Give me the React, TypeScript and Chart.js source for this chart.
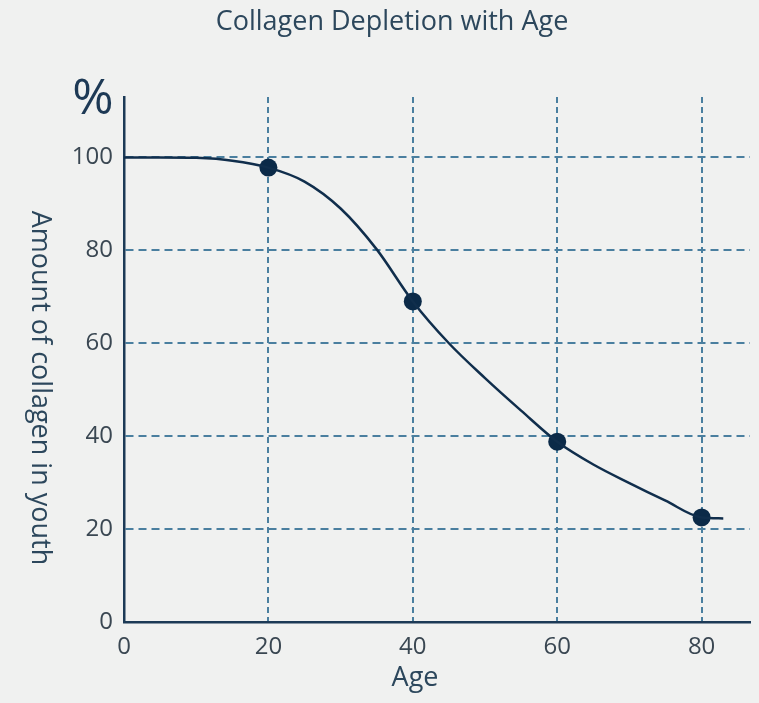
import { useEffect, useRef } from "react";
import { Chart, registerables } from "chart.js";

Chart.register(...registerables);

const chartTitle = "Collagen Depletion with Age";
const xAxisTitle = "Age";
const yAxisTitle = "Amount of collagen in youth";
const yUnit = "%";

const xTickValues = [0, 20, 40, 60, 80];
const yTickValues = [0, 20, 40, 60, 80, 100];

const markerAges = [20, 40, 60, 80];
const markerValues = [97.8, 69, 38.8, 22.5];

const curveAges = [0, 5, 10, 15, 20, 25, 30, 35, 40, 45, 50, 55, 60, 65, 70, 75, 80, 83];
const curveValues = [100, 100, 99.9, 99.3, 97.8, 94.8, 89, 80.2, 69, 60, 52.5, 45.5, 38.8, 33.9, 29.9, 26.1, 22.5, 22.3];

const FONT = '"Open Sans", "Noto Sans", sans-serif';
const GRID = "#4a7f9f";
const NAVY = "#102e4c";

export default function App() {
  const ref = useRef<HTMLCanvasElement | null>(null);

  useEffect(() => {
    if (!ref.current) return;

    const textPlugin = {
      id: "texts",
      afterDraw(chart: any) {
        const ctx = chart.ctx;
        ctx.save();
        ctx.textAlign = "center";
        ctx.textBaseline = "middle";
        ctx.fillStyle = "#2c475c";
        ctx.font = `27px ${FONT}`;
        ctx.fillText(chartTitle, 392, 22);
        ctx.fillText(xAxisTitle, 415, 678);
        ctx.save();
        ctx.translate(40, 388);
        ctx.rotate(Math.PI / 2);
        ctx.fillText(yAxisTitle, 0, 0);
        ctx.restore();
        ctx.fillStyle = "#1d3955";
        ctx.font = `50px ${FONT}`;
        ctx.fillText(yUnit, 93, 100);
        ctx.restore();
      },
    };

    const chart = new Chart(ref.current, {
      type: "line",
      data: {
        datasets: [
          {
            data: curveAges.map((x, i) => ({ x, y: curveValues[i] })),
            borderColor: NAVY,
            borderWidth: 2.5,
            pointRadius: 0,
            cubicInterpolationMode: "monotone",
            fill: false,
          },
          {
            data: markerAges.map((x, i) => ({ x, y: markerValues[i] })),
            showLine: false,
            pointRadius: 9,
            pointBackgroundColor: "#0b2a48",
            pointBorderWidth: 0,
            borderColor: "#0b2a48",
          },
        ],
      } as any,
      plugins: [textPlugin],
      options: {
        animation: false,
        responsive: false,
        events: [],
        layout: { padding: { left: 0, right: 4, top: 97, bottom: 0 } },
        plugins: { legend: { display: false }, tooltip: { enabled: false }, title: { display: false } },
        scales: {
          x: {
            type: "linear",
            min: 0,
            max: 86.7,
            afterBuildTicks: (s: any) => {
              s.ticks = xTickValues.map((v) => ({ value: v }));
            },
            afterFit: (s: any) => {
              s.height = 81;
            },
            grid: {
              color: (c: any) => (c.tick && c.tick.value === 0 ? "rgba(0,0,0,0)" : GRID),
              lineWidth: 2,
              drawTicks: false,
            },
            border: { display: true, color: "#1c3a56", width: 2.5, dash: [6, 4] },
            ticks: {
              padding: 11,
              color: "#3a4752",
              font: { family: FONT, size: 24 },
              maxRotation: 0,
              autoSkip: false,
            },
          },
          y: {
            type: "linear",
            min: 0,
            max: 113,
            afterBuildTicks: (s: any) => {
              s.ticks = yTickValues.map((v) => ({ value: v }));
            },
            afterFit: (s: any) => {
              s.width = 124;
            },
            grid: {
              color: (c: any) => (c.tick && c.tick.value === 0 ? "rgba(0,0,0,0)" : GRID),
              lineWidth: 2,
              drawTicks: false,
            },
            border: { display: true, color: "#1c3a56", width: 2.5, dash: [8, 5] },
            ticks: {
              padding: 11,
              color: "#3a4752",
              font: { family: FONT, size: 24 },
              autoSkip: false,
            },
          },
        },
      } as any,
    });

    return () => chart.destroy();
  }, []);

  return (
    <div style={{ position: "fixed", left: 0, top: 0, width: 759, height: 703, background: "#f0f1f0" }}>
      <canvas ref={ref} width={759} height={703} style={{ display: "block", width: 759, height: 703 }} />
    </div>
  );
}
